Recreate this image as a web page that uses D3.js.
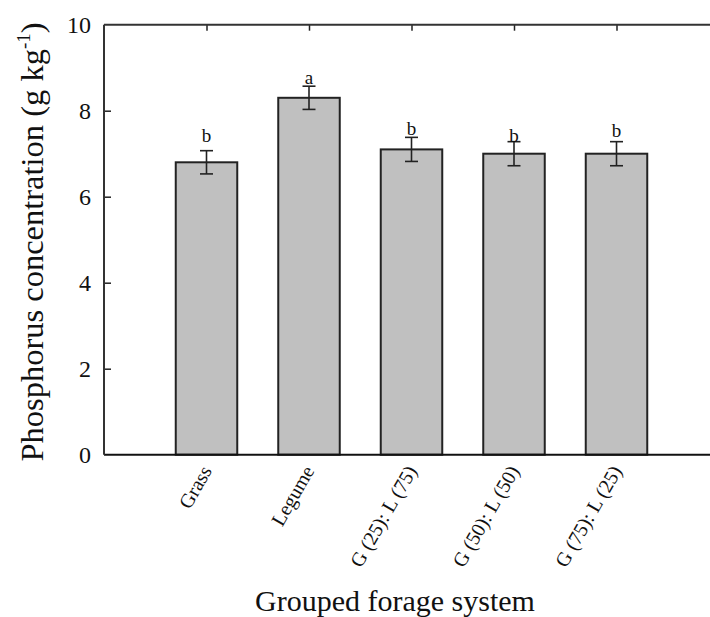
<!DOCTYPE html>
<html><head><meta charset="utf-8">
<script src="https://cdn.jsdelivr.net/npm/d3@7"></script>
<style>body{margin:0;background:#fff}svg{display:block}text{font-family:"Liberation Serif",serif;fill:#111}</style>
</head><body><svg id="c" width="710" height="617"></svg>
<script>
const categories = ["Grass","Legume","G (25): L (75)","G (50): L (50)","G (75): L (25)"];
const values = [6.8, 8.3, 7.1, 7.0, 7.0];
const errors = [0.27, 0.27, 0.28, 0.28, 0.28];
const letters = ["b","a","b","b","b"];
const letterAt = [7.28, 8.62, 7.43, 7.28, 7.40];
const yTicks = [0, 2, 4, 6, 8, 10];

const svg = d3.select("#c");
const L = 104, T = 24.7, B = 454.7, R = 719;
const x = d3.scalePoint().domain(categories).range([L, R]).padding(1);
const y = d3.scaleLinear().domain([0, 10]).range([B, T]);
const bw = x.step() * 0.6;
const ink = "#222";

// bars
svg.append("g").selectAll("rect").data(categories).join("rect")
  .attr("x", d => x(d) - bw/2).attr("width", bw)
  .attr("y", (d,i) => y(values[i])).attr("height", (d,i) => y(0) - y(values[i]))
  .attr("fill", "#c0c0c0").attr("stroke", ink).attr("stroke-width", 2);

// error bars
const eg = svg.append("g").attr("stroke", ink).attr("stroke-width", 1.6);
categories.forEach((c,i) => {
  const cx = x(c), hi = y(values[i]+errors[i]), lo = y(values[i]-errors[i]);
  eg.append("line").attr("x1",cx).attr("x2",cx).attr("y1",hi).attr("y2",lo);
  eg.append("line").attr("x1",cx-6.5).attr("x2",cx+6.5).attr("y1",hi).attr("y2",hi);
  eg.append("line").attr("x1",cx-6.5).attr("x2",cx+6.5).attr("y1",lo).attr("y2",lo);
});

// letters
svg.append("g").selectAll("text").data(categories).join("text")
  .attr("x", d => x(d)).attr("y", (d,i) => y(letterAt[i]))
  .attr("text-anchor","middle").style("font-size","19px")
  .text((d,i) => letters[i]);

// axes
const yAxis = svg.append("g").attr("transform",`translate(${L},0)`)
  .call(d3.axisRight(y).tickValues(yTicks.filter(v => v>0 && v<10)).tickSize(7).tickFormat(""));
yAxis.select(".domain").remove();
yAxis.selectAll("line").attr("stroke", ink).attr("stroke-width", 1.5);
svg.append("g").selectAll("text").data(yTicks).join("text")
  .attr("x", L - 13).attr("y", d => y(d)).attr("dy","0.35em")
  .attr("text-anchor","end").style("font-size","24px").text(d => d);

const topAxis = svg.append("g").attr("transform",`translate(0,${T})`)
  .call(d3.axisBottom(x).tickSize(6).tickFormat(""));
topAxis.select(".domain").remove();
topAxis.selectAll("line").attr("stroke", ink).attr("stroke-width", 1.5);

svg.append("line").attr("x1",L).attr("x2",R).attr("y1",T).attr("y2",T).attr("stroke","#333").attr("stroke-width",2);
svg.append("line").attr("x1",L).attr("x2",R).attr("y1",B).attr("y2",B).attr("stroke","#111").attr("stroke-width",2);
svg.append("line").attr("x1",L).attr("x2",L).attr("y1",T).attr("y2",B).attr("stroke","#333").attr("stroke-width",2);

// x labels
svg.append("g").selectAll("text").data(categories).join("text")
  .attr("transform", d => `translate(${x(d)+6},${B+16}) rotate(-60)`)
  .attr("text-anchor","end").style("font-size","20px").text(d => d);

// axis titles
svg.append("text").attr("x", 395).attr("y", 611).attr("text-anchor","middle")
  .style("font-size","30px").text("Grouped forage system");
const yl = svg.append("text").attr("transform", `translate(43,242) rotate(-90)`)
  .attr("text-anchor","middle").style("font-size","32.5px");
yl.append("tspan").text("Phosphorus concentration (g kg");
yl.append("tspan").attr("dy","-13").style("font-size","19px").text("-1");
yl.append("tspan").attr("dy","13").text(")");
</script></body></html>
